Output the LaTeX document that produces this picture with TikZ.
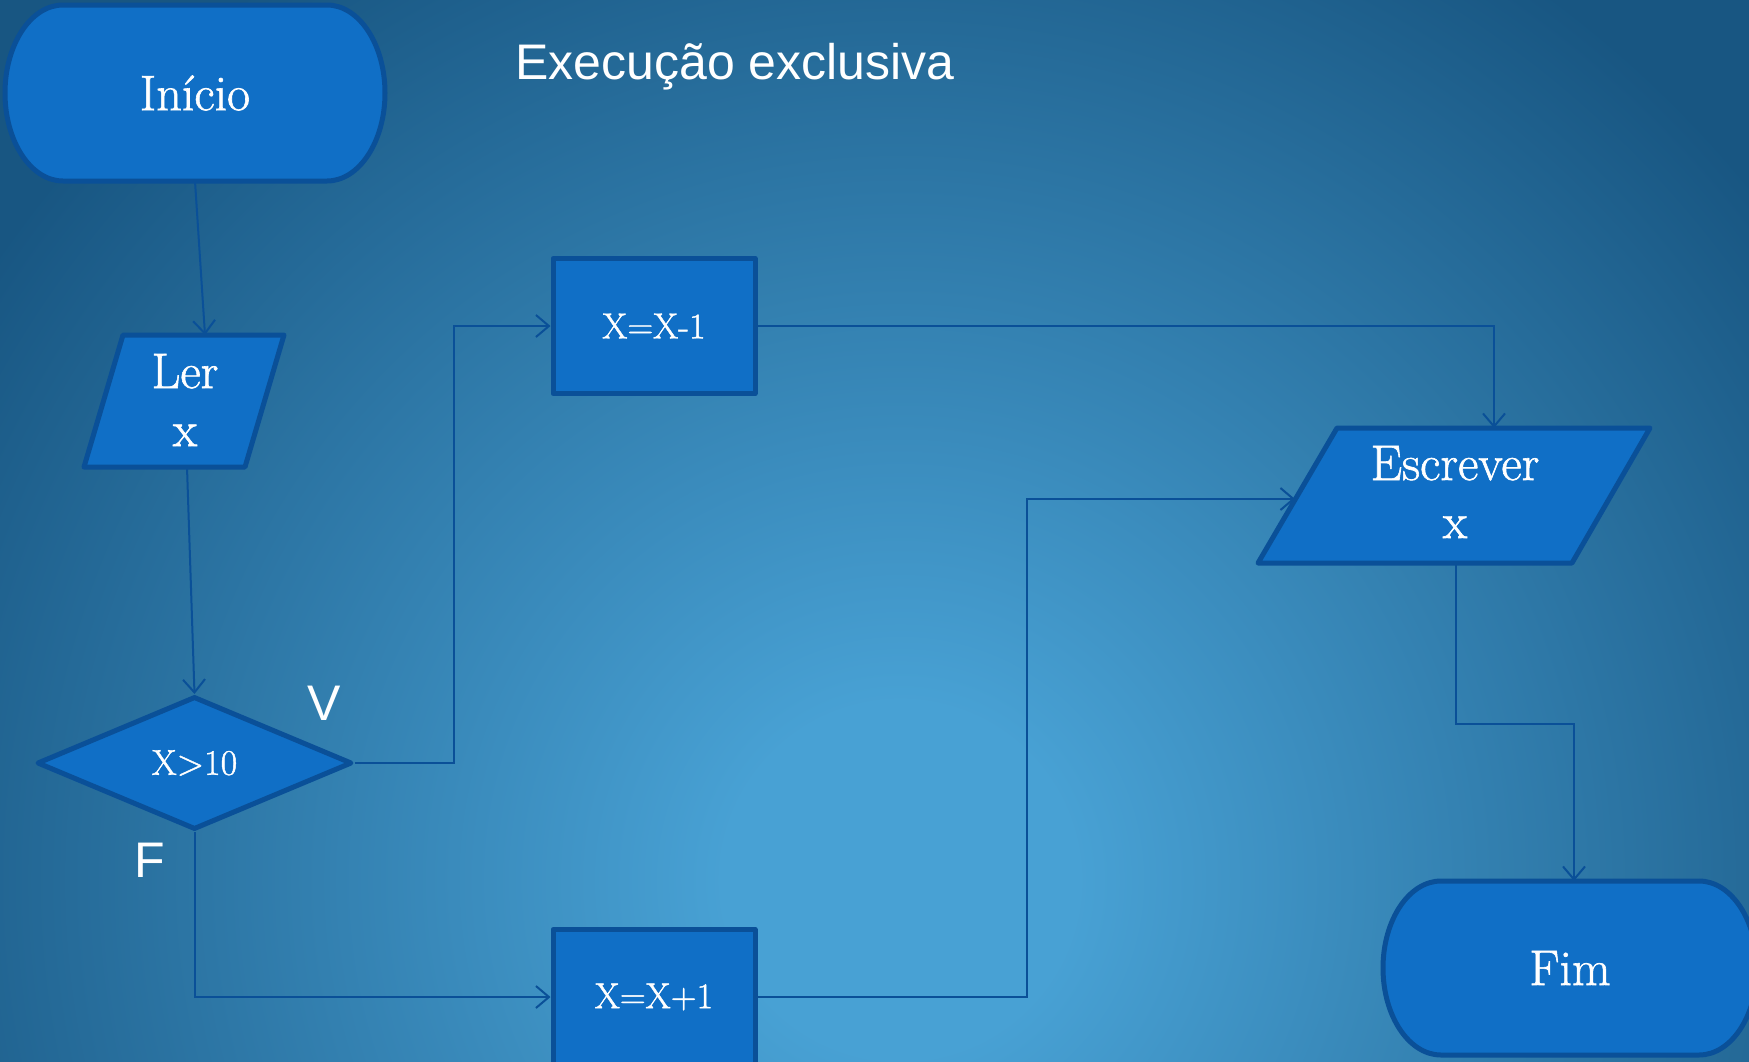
\documentclass[tikz,border=0pt]{standalone}
\usepackage{fontspec}
\newfontfamily\titlefont{Liberation Sans}
\newfontfamily\nodefont{Latin Modern Roman}[FakeBold=1.2]
\usetikzlibrary{arrows.meta,shapes.geometric,calc}
\definecolor{bgl}{RGB}{72,161,212}
\definecolor{bgd}{RGB}{24,86,130}
\definecolor{boxfill}{RGB}{16,111,198}
\definecolor{boxline}{RGB}{10,80,152}
\definecolor{connc}{RGB}{10,80,152}
\pgfdeclareradialshading{bgshade}{\pgfpoint{0bp}{0bp}}{color(0bp)=(bgl); color(4bp)=(bgl); color(25bp)=(bgd); color(50bp)=(bgd)}
\begin{document}
\begin{tikzpicture}[x=1pt,y=-1pt,
  shapeline/.style={fill=boxfill,draw=boxline,line width=5pt,line join=round},
  lbl/.style={text=white,inner sep=0pt,font=\nodefont\fontsize{50}{58}\selectfont,align=center},
  procbox/.style={shapeline,rectangle,minimum width=202pt,minimum height=135pt,inner sep=0pt,text=white,font=\nodefont\fontsize{36}{42}\selectfont},
  decision/.style={shapeline,diamond,minimum width=315pt,minimum height=133pt,inner sep=0pt,aspect=2.37,text=white,font=\nodefont\fontsize{36}{42}\selectfont},
  conn/.style={draw=connc,line width=2pt,-{Straight Barb[length=13pt,width=22pt]}},
  ttl/.style={text=white,font=\titlefont\fontsize{50}{60}\selectfont,inner sep=0pt}
]
\useasboundingbox (0,0) rectangle (1749,1061);
\begin{scope}
  \clip (0,0) rectangle (1749,1061);
  \fill[bgd] (0,0) rectangle (1749,1061);
  \shade[shading=bgshade] (900,880) circle (1100);
\end{scope}

% title
\node[ttl,anchor=base] (title) at (735,79) {Execução exclusiva};

% Inicio terminal
\draw[shapeline] (63,5) -- (327,5) arc[start angle=-90,end angle=90,x radius=58,y radius=88]
  -- (63,181) arc[start angle=90,end angle=270,x radius=58,y radius=88] -- cycle;
\node[lbl,minimum width=380pt,minimum height=176pt] (start) at (195,93) {Início};

% Ler x
\draw[shapeline] (123,335) -- (284,335) -- (245,467) -- (84,467) -- cycle;
\node[lbl] (ler) at (185,400) {Ler\\x};
\coordinate (lerin) at (205,335);
\coordinate (lerout) at (187,467);

% decision
\node[decision] (dec) at (194.5,763) {X>10};

% process boxes
\node[procbox] (p1) at (654,326) {X=X-1};
\node[procbox] (p2) at (654,997) {X=X+1};

% Escrever x
\draw[shapeline] (1337,428) -- (1650,428) -- (1572,563) -- (1258,563) -- cycle;
\node[lbl] (esc) at (1455,492) {Escrever\\x};
\coordinate (escin) at (1494,428);
\coordinate (escleft) at (1295,499);
\coordinate (escout) at (1456,563);

% Fim terminal
\draw[shapeline] (1441,881) -- (1699,881) arc[start angle=-90,end angle=90,x radius=58,y radius=87]
  -- (1441,1055) arc[start angle=90,end angle=270,x radius=58,y radius=87] -- cycle;
\node[lbl,minimum width=374pt,minimum height=174pt] (fim) at (1570,968) {Fim};
\coordinate (fimin) at (1574,881);

% junction coordinates
\coordinate (jv) at (454,500);
\coordinate (jw) at (1027,700);
\coordinate (jf) at (1500,724);

% connectors
\draw[conn] (start.south) -- (lerin);
\draw[conn] (lerout) -- (dec.north);
\draw[conn] (dec.east) -| (jv) |- (p1.west);
\draw[conn] (dec.south) |- (p2.west);
\draw[conn] (p1.east) -| (escin);
\draw[conn] (p2.east) -| (jw) |- (escleft);
\draw[conn] (escout) |- (jf) -| (fimin);

% labels
\node[ttl] (vlab) at (324,703) {V};
\node[ttl] (flab) at (150,860) {F};
\end{tikzpicture}
\end{document}
